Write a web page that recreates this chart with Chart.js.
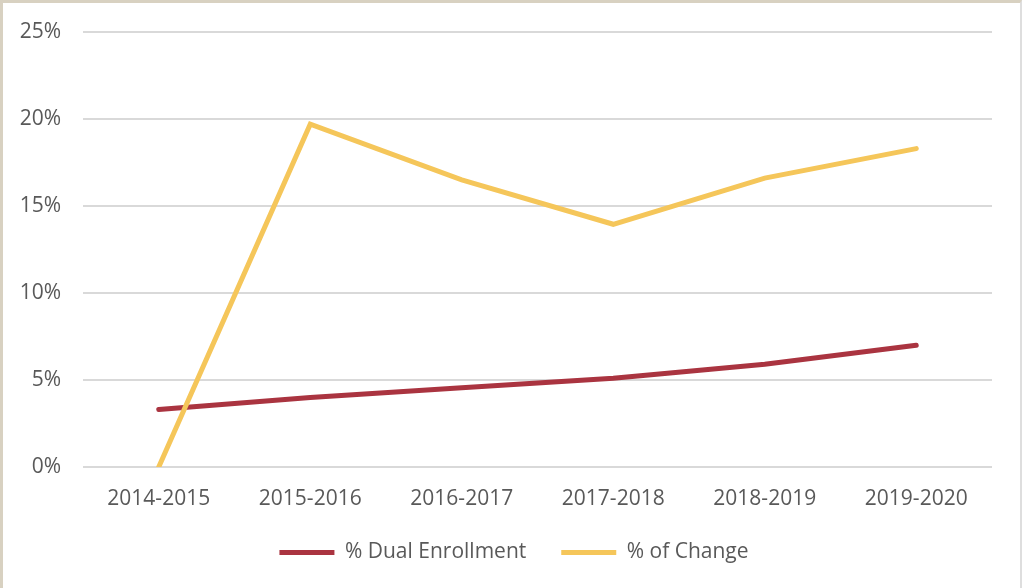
<!DOCTYPE html>
<html>
<head>
<meta charset="utf-8">
<script src="https://cdn.jsdelivr.net/npm/chart.js@4.4.0/dist/chart.umd.min.js"></script>
<style>
    html, body { margin: 0; padding: 0; background: #fff; }
    #wrap { position: relative; width: 1022px; height: 588px; overflow: hidden; }
    #frame {
        position: absolute; left: 0; top: 0; width: 1022px; height: 588px;
        box-sizing: border-box;
        border-top: 3px solid #d8d1c1;
        border-left: 3px solid #d8d1c1;
        border-right: 2px solid #dedede;
        pointer-events: none;
    }
    #myChart { position: absolute; left: 0; top: 0; }
</style>
</head>
<body>
<div id="wrap">
    <canvas id="myChart" width="1022" height="588"></canvas>
    <div id="frame"></div>
</div>
<script>
const years = ["2014-2015", "2015-2016", "2016-2017", "2017-2018", "2018-2019", "2019-2020"]
const dualEnrollment = [3.3, 4.0, 4.55, 5.1, 5.9, 7.0]
const percentChange = [0, 19.7, 16.5, 13.95, 16.6, 18.3]
const yTicks = [0, 5, 10, 15, 20, 25]

const red = "#aa3440"
const yellow = "#f5c65a"
const textColor = "#595959"
const font = { family: "'Open Sans', sans-serif", size: 21 }

Chart.defaults.font.family = font.family
Chart.defaults.color = textColor

const $ctx = document.getElementById("myChart")

// legend sits centred under the whole frame, not just the plot
const shiftLegend = {
    id: "shiftLegend",
    afterLayout: (chart) => {
        chart.legend.left += 18
        chart.legend.right += 18
    }
}

new Chart($ctx, {
    type: "line",
    data: {
        labels: years,
        datasets: [{
            label: "% Dual Enrollment",
            data: dualEnrollment,
            borderColor: red,
            backgroundColor: red,
            borderWidth: 5,
            pointRadius: 0,
            tension: 0,
            borderCapStyle: "round",
            order: 1
        }, {
            label: "% of Change",
            data: percentChange,
            borderColor: yellow,
            backgroundColor: yellow,
            borderWidth: 5,
            pointRadius: 0,
            tension: 0,
            borderCapStyle: "round",
            order: 0
        }]
    },
    options: {
        responsive: false,
        animation: false,
        layout: { padding: { top: 32, right: 30, bottom: 15, left: 0 } },
        plugins: {
            tooltip: { enabled: false },
            legend: {
                position: "bottom",
                labels: {
                    font: font,
                    color: textColor,
                    boxWidth: 55,
                    boxHeight: 5,
                    padding: 35,
                    sort: (a, b) => a.datasetIndex - b.datasetIndex,
                    generateLabels: (chart) => {
                        const items = Chart.defaults.plugins.legend.labels.generateLabels(chart)
                        items.forEach(item => {
                            item.lineWidth = 0
                            item.strokeStyle = "rgba(0,0,0,0)"
                        })
                        return items
                    }
                }
            }
        },
        scales: {
            x: {
                offset: true,
                grid: { display: false },
                border: { display: false },
                ticks: { font: font, color: textColor, padding: 11, maxRotation: 0 },
                afterFit: (scale) => { scale.height = 40 }
            },
            y: {
                min: 0,
                max: 25,
                afterBuildTicks: (scale) => { scale.ticks = yTicks.map(v => ({ value: v })) },
                grid: { color: "#d9d9d9", lineWidth: 2, drawTicks: false },
                border: { display: false },
                ticks: {
                    font: font,
                    color: textColor,
                    padding: 22,
                    callback: (v) => v + "%"
                },
                afterFit: (scale) => {
                    scale.width = 83
                    scale.paddingTop = 0
                    scale.paddingBottom = 0
                }
            }
        }
    },
    plugins: [shiftLegend]
})
</script>
</body>
</html>
